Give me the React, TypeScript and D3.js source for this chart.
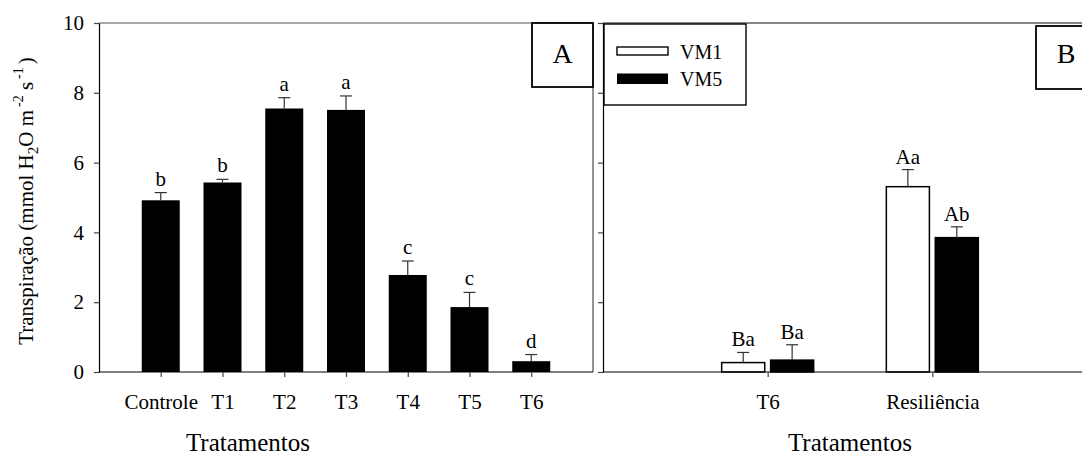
import React, { useEffect, useRef } from 'react';
import * as d3 from 'd3';

// Panel A: transpiration per treatment
const treatmentsA = ['Controle', 'T1', 'T2', 'T3', 'T4', 'T5', 'T6'];
const meansA = [4.92, 5.43, 7.55, 7.51, 2.78, 1.86, 0.31];
const errorsA = [0.22, 0.09, 0.31, 0.4, 0.4, 0.42, 0.19];
const lettersA = ['b', 'b', 'a', 'a', 'c', 'c', 'd'];

// Panel B: T6 vs. resilience for two cultivars
const groupsB = ['T6', 'Resiliência'];
const seriesB = ['VM1', 'VM5'];
const vm1Means = [0.27, 5.31];
const vm1Errors = [0.29, 0.49];
const vm1Letters = ['Ba', 'Aa'];
const vm5Means = [0.34, 3.85];
const vm5Errors = [0.44, 0.31];
const vm5Letters = ['Ba', 'Ab'];

const yTicks = [0, 2, 4, 6, 8, 10];

const W = 1082;
const H = 456;
const FONT = "'Liberation Serif', 'Times New Roman', serif";

const TOP = 23;
const BOTTOM = 372;
const A_LEFT = 99;
const A_RIGHT = 593;
const B_LEFT = 603;
const B_RIGHT = 1097;

const y = d3.scaleLinear().domain([0, 10]).range([BOTTOM, TOP]);
const xA = d3.scalePoint<string>().domain(treatmentsA).range([A_LEFT, A_RIGHT]).padding(1);
const xB = d3.scalePoint<string>().domain(groupsB).range([B_LEFT, B_RIGHT]).padding(1);
const xSeries = d3.scaleBand<string>().domain(seriesB).range([-46, 46]).paddingInner(0.12);

const BAR_A = 38;
const CAP = 6;

const txt = (size: number): React.CSSProperties => ({ fontFamily: FONT, fontSize: `${size}px` });

function ErrorBar({ cx, mean, err }: { cx: number; mean: number; err: number }) {
  const y0 = y(mean);
  const y1 = y(mean + err);
  return (
    <g stroke="#333" strokeWidth={1.2}>
      <line x1={cx} x2={cx} y1={y0} y2={y1} />
      <line x1={cx - CAP} x2={cx + CAP} y1={y1} y2={y1} />
    </g>
  );
}

export default function App() {
  const aLeftRef = useRef<SVGGElement>(null);
  const aBottomRef = useRef<SVGGElement>(null);
  const bLeftRef = useRef<SVGGElement>(null);
  const bBottomRef = useRef<SVGGElement>(null);

  useEffect(() => {
    const style = (g: d3.Selection<SVGGElement, unknown, null, undefined>) => {
      g.attr('font-family', null).attr('font-size', null);
      g.select('.domain').attr('stroke', '#000').attr('stroke-width', 1.2);
      g.selectAll('.tick line').attr('stroke', '#444').attr('stroke-width', 1.2);
      g.selectAll('.tick text')
        .attr('fill', '#000')
        .style('font-family', FONT)
        .style('font-size', '21px');
    };

    const aLeft = d3.select(aLeftRef.current!);
    aLeft.call(
      d3.axisLeft(y).tickValues(yTicks).tickSize(5).tickSizeOuter(0).tickPadding(10).tickFormat(d3.format('d'))
    );
    style(aLeft);

    const aBottom = d3.select(aBottomRef.current!);
    aBottom.call(d3.axisBottom(xA).tickSize(5).tickSizeOuter(0).tickPadding(17));
    style(aBottom);
    aBottom.select('.domain').attr('d', `M${A_LEFT},0H${A_RIGHT}`);

    const bLeft = d3.select(bLeftRef.current!);
    bLeft.call(d3.axisLeft(y).tickValues(yTicks).tickSize(5).tickSizeOuter(0).tickFormat(() => ''));
    style(bLeft);

    const bBottom = d3.select(bBottomRef.current!);
    bBottom.call(d3.axisBottom(xB).tickSize(5).tickSizeOuter(0).tickPadding(17));
    style(bBottom);
    bBottom.select('.domain').attr('d', `M${B_LEFT},0H${B_RIGHT}`);
  }, []);

  const bGroups = [
    { key: 'VM1', means: vm1Means, errors: vm1Errors, letters: vm1Letters, fill: '#fff' },
    { key: 'VM5', means: vm5Means, errors: vm5Errors, letters: vm5Letters, fill: '#000' },
  ];

  return (
    <svg
      width={W}
      height={H}
      style={{ position: 'absolute', left: 0, top: 0, background: '#fff', fontFamily: FONT }}
    >
      <rect x={0} y={0} width={W} height={H} fill="#fff" />

      {/* Panel A frame */}
      <line x1={A_LEFT} x2={A_RIGHT} y1={TOP} y2={TOP} stroke="#555" strokeWidth={1.2} />
      <line x1={A_RIGHT} x2={A_RIGHT} y1={TOP} y2={BOTTOM} stroke="#777" strokeWidth={1.6} />

      {/* Panel A bars */}
      {treatmentsA.map((t, i) => {
        const cx = xA(t)!;
        return (
          <g key={t}>
            <rect x={cx - BAR_A / 2} y={y(meansA[i])} width={BAR_A} height={BOTTOM - y(meansA[i])} fill="#000" />
            <ErrorBar cx={cx} mean={meansA[i]} err={errorsA[i]} />
            <text x={cx} y={y(meansA[i] + errorsA[i]) - 7} textAnchor="middle" style={txt(21)} fill="#000">
              {lettersA[i]}
            </text>
          </g>
        );
      })}

      <g ref={aLeftRef} transform={`translate(${A_LEFT},0)`} />
      <g ref={aBottomRef} transform={`translate(0,${BOTTOM})`} />

      {/* Panel A tag */}
      <rect x={532} y={TOP} width={61} height={64} fill="#fff" stroke="#000" strokeWidth={1.8} />
      <text x={562.5} y={63} textAnchor="middle" style={txt(28)} fill="#000">A</text>

      {/* Panel B frame */}
      <line x1={B_LEFT} x2={B_RIGHT} y1={TOP} y2={TOP} stroke="#111" strokeWidth={1.2} />
      <line x1={B_RIGHT} x2={B_RIGHT} y1={TOP} y2={BOTTOM} stroke="#111" strokeWidth={1.2} />

      {/* Panel B bars */}
      {groupsB.map((g, gi) => {
        const gx = xB(g)!;
        return (
          <g key={g}>
            {bGroups.map((s) => {
              const x0 = gx + xSeries(s.key)!;
              const bw = xSeries.bandwidth();
              const cx = x0 + bw / 2;
              const m = s.means[gi];
              const e = s.errors[gi];
              return (
                <g key={s.key}>
                  <rect
                    x={x0}
                    y={y(m)}
                    width={bw}
                    height={BOTTOM - y(m)}
                    fill={s.fill}
                    stroke="#000"
                    strokeWidth={1.5}
                  />
                  <ErrorBar cx={cx} mean={m} err={e} />
                  <text x={cx} y={y(m + e) - 6} textAnchor="middle" style={txt(21)} fill="#000">
                    {s.letters[gi]}
                  </text>
                </g>
              );
            })}
          </g>
        );
      })}

      <g ref={bLeftRef} transform={`translate(${B_LEFT},0)`} />
      <g ref={bBottomRef} transform={`translate(0,${BOTTOM})`} />

      {/* Legend */}
      <rect x={604} y={24} width={142} height={81} fill="#fff" stroke="#000" strokeWidth={1.4} />
      <rect x={617} y={47} width={51} height={8} fill="#fff" stroke="#000" strokeWidth={1.4} />
      <text x={680} y={58.5} style={txt(20)} fill="#000">{seriesB[0]}</text>
      <rect x={617} y={73.5} width={51} height={10.5} fill="#000" />
      <text x={680} y={86} style={txt(20)} fill="#000">{seriesB[1]}</text>

      {/* Panel B tag */}
      <rect x={1036} y={26} width={61} height={63} fill="#fff" stroke="#000" strokeWidth={1.8} />
      <text x={1066} y={63} textAnchor="middle" style={txt(28)} fill="#000">B</text>

      {/* Axis titles */}
      <text x={248} y={451} textAnchor="middle" style={txt(25)} fill="#000">Tratamentos</text>
      <text x={850} y={451} textAnchor="middle" style={txt(25)} fill="#000">Tratamentos</text>

      <text transform="translate(33,201) rotate(-90)" textAnchor="middle" style={txt(21)} fill="#000">
        Transpiração (mmol H
        <tspan style={txt(15)} dy={5}>2</tspan>
        <tspan dy={-5}>O m</tspan>
        <tspan style={txt(14)} dx={3} dy={-10}>-2</tspan>
        <tspan dy={10}> s</tspan>
        <tspan style={txt(14)} dx={3} dy={-10}>-1</tspan>
        <tspan dx={3} dy={10}>)</tspan>
      </text>
    </svg>
  );
}
